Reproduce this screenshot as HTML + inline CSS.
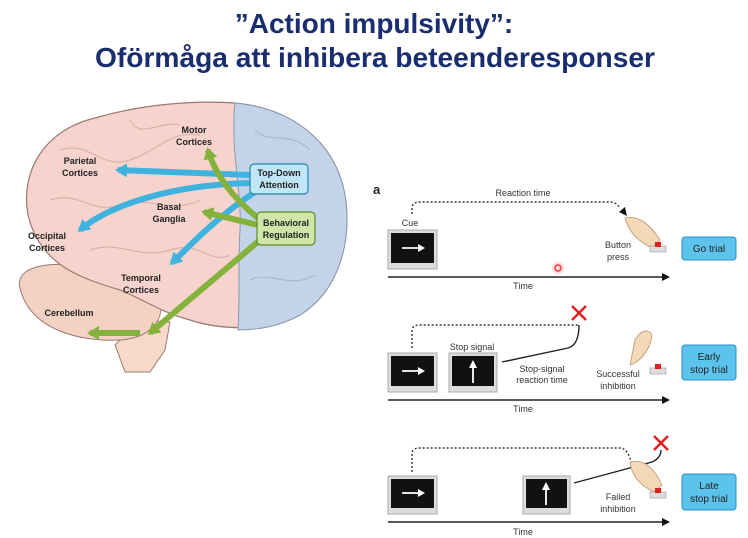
<!DOCTYPE html>
<html><head><meta charset="utf-8"><style>
html,body{margin:0;padding:0;background:#fff;width:748px;height:538px;overflow:hidden}
svg{display:block}
.t{font-family:"Liberation Sans",Arial,sans-serif}
</style></head><body>
<svg width="748" height="538" viewBox="0 0 748 538" xmlns="http://www.w3.org/2000/svg" class="t">
<defs>
<marker id="ah" markerWidth="8" markerHeight="8" refX="6" refY="4" orient="auto" markerUnits="userSpaceOnUse"><path d="M0,0 L8,4 L0,8 z" fill="#111"/></marker>
<marker id="bh" markerWidth="14" markerHeight="14" refX="9" refY="7" orient="auto" markerUnits="userSpaceOnUse"><path d="M0,0 L12,7 L0,14 z" fill="#3fb3dd"/></marker>
<marker id="gh" markerWidth="14" markerHeight="14" refX="9" refY="7" orient="auto" markerUnits="userSpaceOnUse"><path d="M0,0 L12,7 L0,14 z" fill="#84b23c"/></marker>
</defs>
<!-- Title -->
<text x="374" y="33" text-anchor="middle" font-size="28" font-weight="bold" fill="#1a2d6e">”Action impulsivity”:</text>
<text x="375" y="67" text-anchor="middle" font-size="28" font-weight="bold" fill="#1a2d6e" textLength="560" lengthAdjust="spacingAndGlyphs">Oförmåga att inhibera beteenderesponser</text>

<!-- Brain -->
<path d="M125,372 L115,345 L140,320 L170,322 L165,350 L150,372 z" fill="#f6d9c9" stroke="#9a7a70" stroke-width="1"/>
<path d="M20,288 C15,270 40,262 70,265 C110,268 140,280 160,300 C165,320 150,338 120,340 C80,342 30,330 20,288 z" fill="#f3d2c4" stroke="#9a7a70" stroke-width="1"/>
<path d="M28,215 C20,170 45,130 95,118 C140,105 190,100 235,103 C290,108 335,140 345,195 C352,240 340,290 300,315 C270,332 220,330 190,320 C160,312 145,300 120,290 C80,278 40,265 28,215 z" fill="#f6d3cc" stroke="#9a7a70" stroke-width="1.2"/>
<path d="M235,103 C290,108 335,140 345,195 C352,240 340,290 300,315 C280,326 260,330 238,330 C240,300 238,260 240,230 C242,190 230,150 235,103 z" fill="#c3d4e9" stroke="#8a9ab0" stroke-width="1"/>
<g fill="none" stroke="#d9a8a4" stroke-width="1.2" opacity="0.8">
<path d="M60,150 C90,140 100,170 130,160 C160,150 170,130 200,135"/>
<path d="M50,200 C80,190 90,215 120,205 C150,195 170,215 200,200"/>
<path d="M90,250 C120,240 140,260 170,250 C200,240 210,265 230,255"/>
<path d="M130,120 C140,140 160,120 180,125"/>
</g>
<g fill="none" stroke="#9fb2c9" stroke-width="1.2" opacity="0.8">
<path d="M255,130 C270,145 290,130 310,150"/>
<path d="M250,280 C270,270 290,290 315,275"/>
</g>
<g fill="none" stroke="#3fb3dd" stroke-width="6">
<path d="M250,175 L118,170" marker-end="url(#bh)"/>
<path d="M250,183 C170,185 110,205 80,230" marker-end="url(#bh)"/>
<path d="M255,192 C220,215 195,240 172,263" marker-end="url(#bh)"/>
</g>
<g fill="none" stroke="#84b23c" stroke-width="6">
<path d="M258,218 C235,200 215,175 208,150" marker-end="url(#gh)"/>
<path d="M258,225 L204,212" marker-end="url(#gh)"/>
<path d="M260,240 L150,333" marker-end="url(#gh)"/>
<path d="M140,333 L90,333" marker-end="url(#gh)"/>
</g>
<rect x="250" y="164" width="58" height="30" rx="4" fill="#bfe6f6" stroke="#2a7fa8" stroke-width="1.2"/>
<text x="279" y="176" text-anchor="middle" font-size="9" font-weight="bold" fill="#222">Top-Down</text>
<text x="279" y="188" text-anchor="middle" font-size="9" font-weight="bold" fill="#222">Attention</text>
<rect x="257" y="212" width="58" height="33" rx="4" fill="#cfe6a8" stroke="#5a8a2a" stroke-width="1.2"/>
<text x="286" y="226" text-anchor="middle" font-size="9" font-weight="bold" fill="#222">Behavioral</text>
<text x="286" y="238" text-anchor="middle" font-size="9" font-weight="bold" fill="#222">Regulation</text>
<g font-size="9" font-weight="bold" fill="#222" text-anchor="middle">
<text x="194" y="133">Motor</text><text x="194" y="145">Cortices</text>
<text x="80" y="164">Parietal</text><text x="80" y="176">Cortices</text>
<text x="47" y="239">Occipital</text><text x="47" y="251">Cortices</text>
<text x="169" y="210">Basal</text><text x="169" y="222">Ganglia</text>
<text x="141" y="281">Temporal</text><text x="141" y="293">Cortices</text>
<text x="69" y="316">Cerebellum</text>
</g>

<!-- Right panel -->
<text x="373" y="194" font-size="13" font-weight="bold" fill="#222">a</text>
<g font-size="9" fill="#333" text-anchor="middle">
<text x="523" y="196">Reaction time</text>
<text x="410" y="226">Cue</text>
<text x="618" y="248">Button</text><text x="618" y="260">press</text>
<text x="523" y="289">Time</text>
<text x="472" y="350">Stop signal</text>
<text x="542" y="372">Stop-signal</text><text x="542" y="383">reaction time</text>
<text x="618" y="377">Successful</text><text x="618" y="389">inhibition</text>
<text x="523" y="412">Time</text>
<text x="618" y="500">Failed</text><text x="618" y="512">inhibition</text>
<text x="523" y="535">Time</text>
</g>
<g stroke="#222" stroke-width="1.6">
<line x1="388" y1="277" x2="668" y2="277" marker-end="url(#ah)"/>
<line x1="388" y1="400" x2="668" y2="400" marker-end="url(#ah)"/>
<line x1="388" y1="522" x2="668" y2="522" marker-end="url(#ah)"/>
</g>
<g fill="none" stroke="#333" stroke-width="1.4" stroke-dasharray="2,2">
<path d="M412,214 L412,208 Q412,202 420,202 L610,202 Q616,202 620,208"/>
<path d="M412,348 L412,331 Q412,325 420,325 L579,325"/>
<path d="M412,472 L412,454 Q412,448 420,448 L620,448 Q628,448 632,465"/>
</g>
<path d="M619,212 L627,216 L625,207 z" fill="#111"/>
<g fill="none" stroke="#222" stroke-width="1.4">
<path d="M502,362 L568,348 Q579,345 579,325"/>
<path d="M574,483 L652,462 Q661,458 661,450"/>
</g>
<g stroke="#e02020" stroke-width="2.5">
<line x1="572" y1="306" x2="586" y2="320"/><line x1="586" y1="306" x2="572" y2="320"/>
<line x1="654" y1="436" x2="668" y2="450"/><line x1="668" y1="436" x2="654" y2="450"/>
</g>
<circle cx="558" cy="268" r="3" fill="none" stroke="#e33" stroke-width="1.5"/>
<circle cx="558" cy="268" r="6" fill="#f66" opacity="0.25"/>
<g>
<rect x="388" y="230" width="49" height="39" fill="#ddd" stroke="#aaa"/><rect x="391" y="233" width="43" height="30" fill="#111"/>
<rect x="388" y="353" width="49" height="39" fill="#ddd" stroke="#aaa"/><rect x="391" y="356" width="43" height="30" fill="#111"/>
<rect x="449" y="353" width="48" height="39" fill="#ddd" stroke="#aaa"/><rect x="452" y="356" width="42" height="30" fill="#111"/>
<rect x="388" y="476" width="49" height="38" fill="#ddd" stroke="#aaa"/><rect x="391" y="479" width="43" height="29" fill="#111"/>
<rect x="523" y="476" width="47" height="38" fill="#ddd" stroke="#aaa"/><rect x="526" y="479" width="41" height="29" fill="#111"/>
</g>
<g stroke="#fff" stroke-width="1.8" fill="#fff">
<line x1="402" y1="248" x2="420" y2="248"/><path d="M418,244 L425,248 L418,252 z" stroke="none"/>
<line x1="402" y1="371" x2="420" y2="371"/><path d="M418,367 L425,371 L418,375 z" stroke="none"/>
<line x1="402" y1="493" x2="420" y2="493"/><path d="M418,489 L425,493 L418,497 z" stroke="none"/>
<line x1="473" y1="383" x2="473" y2="367"/><path d="M469,368 L473,360 L477,368 z" stroke="none"/>
<line x1="546" y1="505" x2="546" y2="489"/><path d="M542,490 L546,482 L550,490 z" stroke="none"/>
</g>
<g fill="#f3d9b5" stroke="#b89070" stroke-width="0.8">
<path d="M625,218 C640,215 650,225 660,240 L652,248 C640,242 630,235 625,218 z"/>
<path d="M635,340 C640,330 650,328 652,336 C650,350 640,362 630,365 z"/>
<path d="M630,462 C645,458 655,470 662,485 L654,492 C642,486 632,478 630,462 z"/>
</g>
<g>
<rect x="650" y="246" width="16" height="6" fill="#ddd" stroke="#999" stroke-width="0.6"/><rect x="655" y="242" width="6" height="5" fill="#d22"/>
<rect x="650" y="368" width="16" height="6" fill="#ddd" stroke="#999" stroke-width="0.6"/><rect x="655" y="364" width="6" height="5" fill="#d22"/>
<rect x="650" y="492" width="16" height="6" fill="#ddd" stroke="#999" stroke-width="0.6"/><rect x="655" y="488" width="6" height="5" fill="#d22"/>
</g>
<g fill="#5cc3ec" stroke="#2a8fc0" stroke-width="1">
<rect x="682" y="237" width="54" height="23" rx="3"/>
<rect x="682" y="345" width="54" height="35" rx="3"/>
<rect x="682" y="474" width="54" height="36" rx="3"/>
</g>
<g font-size="10" fill="#222" text-anchor="middle">
<text x="709" y="252">Go trial</text>
<text x="709" y="360">Early</text><text x="709" y="373">stop trial</text>
<text x="709" y="489">Late</text><text x="709" y="502">stop trial</text>
</g>
</svg>
</body></html>
